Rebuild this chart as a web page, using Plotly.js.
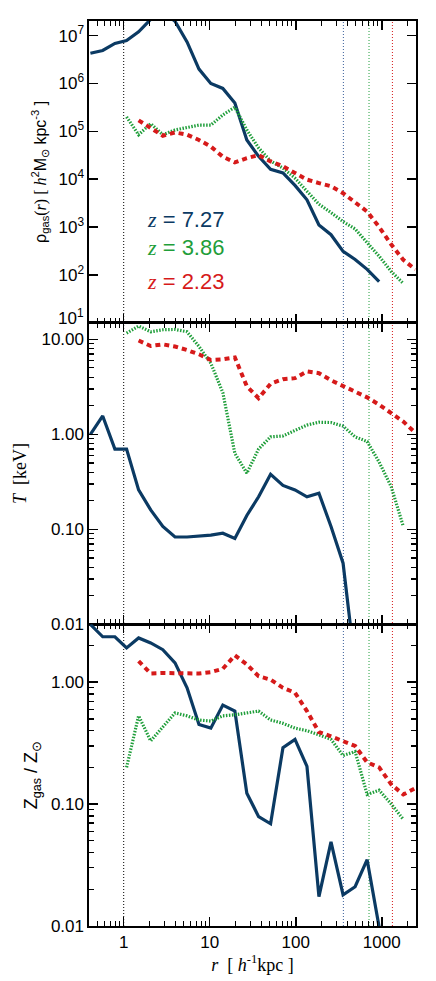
<!DOCTYPE html>
<html>
<head>
<meta charset="utf-8">
<script src="https://cdn.plot.ly/plotly-3.0.1.min.js"></script>
<style>body{margin:0;background:#fff}#plot{width:436px;height:981px}</style>
</head>
<body>
<div id="plot"></div>
<script>
// radial bins [h^-1 kpc]
const radius = [0.41, 0.57, 0.79, 1.08, 1.49, 2.06, 2.85, 3.95, 5.45, 7.5, 10.3, 14.2, 19.6, 27,
  37, 51, 71, 98, 135, 186, 257, 355, 490, 676, 932, 1290, 1780, 2450];

// gas density
const rhoZ727 = [4.3e6, 4.9e6, 6.9e6, 7.9e6, 1.2e7, 2.2e7, 3.2e7, 2.0e7, 7.4e6, 2.0e6, 1.0e6, 7.9e5, 3.9e5, 6.6e4,
  3.0e4, 1.6e4, 1.35e4, 7.4e3, 3.7e3, 1.1e3, 690, 310, 210, 130, 72, null, null, null];
const rhoZ386 = [null, null, null, 2.0e5, 8.5e4, 1.45e5, 8.5e4, 1.07e5, 1.2e5, 1.35e5, 1.35e5, 2.2e5, 3.2e5, 1.07e5,
  4.5e4, 2.4e4, 1.7e4, 1.05e4, 5.6e3, 3.0e3, 2.0e3, 1.3e3, 910, 480, 245, 117, 66, null];
const rhoZ223 = [null, null, null, null, 1.7e5, 1.17e5, 8.1e4, 9.5e4, 8.5e4, 6.6e4, 4.8e4, 2.95e4, 2.24e4, 2.75e4,
  3.2e4, 2.35e4, 1.86e4, 1.35e4, 9.8e3, 8.3e3, 7.1e3, 5.1e3, 3.2e3, 2.1e3, 1.0e3, 430, 205, 130];

// temperature [keV]
const tZ727 = [1.0, 1.56, 0.70, 0.70, 0.26, 0.16, 0.107, 0.083, 0.083, 0.085, 0.087, 0.091, 0.080, 0.14,
  0.22, 0.38, 0.29, 0.26, 0.22, 0.24, 0.107, 0.044, 0.0037, null, null, null, null, null];
const tZ386 = [null, null, null, 11.6, 13.8, 12.0, 12.6, 12.7, 12.0, 8.4, 5.6, 2.75, 0.63, 0.39,
  0.7, 0.94, 0.96, 1.1, 1.25, 1.34, 1.33, 1.22, 0.94, 0.84, 0.51, 0.28, 0.107, null];
const tZ223 = [null, null, null, null, 9.7, 8.5, 8.85, 8.4, 7.7, 6.95, 6.05, 6.15, 6.45, 3.2,
  2.4, 3.4, 3.8, 3.9, 4.6, 4.4, 3.7, 3.2, 2.8, 2.45, 2.05, 1.65, 1.36, 1.04];

// metallicity [Z_sun]
const metZ727 = [2.98, 2.36, 2.36, 1.91, 2.31, 2.10, 1.85, 1.44, 0.90, 0.45, 0.42, 0.65, 0.58, 0.123,
  0.079, 0.069, 0.29, 0.34, 0.204, 0.0174, 0.049, 0.018, 0.021, 0.035, 0.0098, 0.004, null, null];
const metZ386 = [null, null, null, 0.20, 0.53, 0.33, 0.43, 0.56, 0.53, 0.49, 0.48, 0.53, 0.54, 0.56,
  0.58, 0.49, 0.46, 0.42, 0.40, 0.37, 0.34, 0.25, 0.27, 0.12, 0.13, 0.10, 0.075, null];
const metZ223 = [null, null, null, null, 1.49, 1.18, 1.19, 1.18, 1.18, 1.18, 1.21, 1.29, 1.66, 1.40,
  1.12, 1.05, 0.90, 0.82, 0.58, 0.39, 0.36, 0.33, 0.30, 0.22, 0.20, 0.145, 0.12, 0.135];

const redshiftLabels = ['7.27', '3.86', '2.23'];
const rhoTicks = [1e1, 1e2, 1e3, 1e4, 1e5, 1e6, 1e7];
// the 10^1 label sits nudged up (as an annotation) so it clears the 10.00 below
const rhoTickText = ['', '10<sup>2</sup>', '10<sup>3</sup>', '10<sup>4</sup>',
  '10<sup>5</sup>', '10<sup>6</sup>', '10<sup>7</sup>'];
// vertical markers: resolution limit and virial radii
const vlineX = [1, 358, 711, 1330];

const blue = '#0b3a63', green = '#1f9e3a', red = '#d61a1a';
const vlineColors = ['#000000', '#3a5f9a', green, red];

const serif = 'Liberation Serif, Times New Roman, serif';
const sans = 'Liberation Sans, Arial, Helvetica, sans-serif';

const styles = [
  {color: blue, width: 3.2, dash: 'solid'},
  {color: green, width: 3.2, dash: '1.5px,1.5px'},
  {color: red, width: 4, dash: '5px,4px'}
];

const panels = [
  [rhoZ727, rhoZ386, rhoZ223],
  [tZ727, tZ386, tZ223],
  [metZ727, metZ386, metZ223]
];

let traces = [];
panels.forEach((set, p) => {
  set.forEach((ys, s) => {
    traces.push({
      x: radius, y: ys, type: 'scatter', mode: 'lines',
      xaxis: p === 0 ? 'x' : 'x' + (p + 1),
      yaxis: p === 0 ? 'y' : 'y' + (p + 1),
      line: styles[s], connectgaps: false, showlegend: false, hoverinfo: 'skip'
    });
  });
});

const xr = [Math.log10(0.395), Math.log10(2500)];
function xAxis(anchor, labels) {
  return {
    type: 'log', range: xr, anchor: anchor, dtick: 1, exponentformat: 'none',
    showticklabels: labels, ticks: 'inside', ticklen: 9, tickwidth: 1.5, tickcolor: '#000',
    showline: true, linewidth: 1.6, linecolor: '#000', mirror: 'allticks',
    showgrid: false, zeroline: false,
    tickfont: {family: sans, size: 17, color: '#000'},
    minor: {ticks: 'inside', ticklen: 5, tickwidth: 1.2, tickcolor: '#000', showgrid: false}
  };
}
function yAxis(anchor, domain, range, extra) {
  return Object.assign({
    type: 'log', range: range, domain: domain, anchor: anchor, dtick: 1,
    ticks: 'inside', ticklen: 9, tickwidth: 1.5, tickcolor: '#000',
    showline: true, linewidth: 1.6, linecolor: '#000', mirror: 'allticks',
    showgrid: false, zeroline: false,
    tickfont: {family: sans, size: 17, color: '#000'}
  }, extra);
}

const minorY = {ticks: 'inside', ticklen: 5, tickwidth: 1.2, tickcolor: '#000', showgrid: false};

let notes = redshiftLabels.map((lab, i) => ({
  xref: 'x', yref: 'y', x: Math.log10(1.75), y: [3.15, 2.57, 1.86][i],
  xanchor: 'left', yanchor: 'middle', showarrow: false,
  text: '<span style="font-family:Liberation Serif"><i>z</i></span> = ' + lab,
  font: {family: sans, size: 22, color: [blue, green, red][i]}
}));
notes.push({
  xref: 'paper', yref: 'y', x: 0, y: Math.log10(rhoTicks[0]), xanchor: 'right', yanchor: 'middle',
  xshift: -3, yshift: 6, showarrow: false, text: '10<sup>1</sup>',
  font: {family: sans, size: 17, color: '#000'}
});

const layout = {
  width: 436, height: 981,
  margin: {l: 89, r: 20, t: 21, b: 55},
  paper_bgcolor: '#fff', plot_bgcolor: '#fff',
  font: {family: sans, color: '#000'},
  xaxis: xAxis('y', false),
  xaxis2: xAxis('y2', false),
  xaxis3: Object.assign(xAxis('y3', true), {
    title: {text: '<span style="font-family:Liberation Serif"><i>r</i>  [ <i>h</i><sup>-1</sup>kpc ]</span>',
      font: {family: serif, size: 18}, standoff: 6}
  }),
  yaxis: yAxis('x', [2 / 3, 1], [1, 7.307], {
    tickmode: 'array', tickvals: rhoTicks, ticktext: rhoTickText,
    title: {text: 'ρ<sub>gas</sub><span style="font-family:Liberation Serif">(<i>r</i>) [ <i>h</i></span><sup>2</sup>M<sub>⊙</sub> kpc<sup>-3</sup> ]',
      font: {family: sans, size: 16}, standoff: 8}
  }),
  yaxis2: yAxis('x2', [1 / 3, 2 / 3], [-2, 1.175], {
    tickformat: '.2f', minor: minorY,
    title: {text: '<i>T</i>  [keV]', font: {family: serif, size: 18}, standoff: 10}
  }),
  yaxis3: yAxis('x3', [0, 1 / 3], [-2, 0.475], {
    tickformat: '.2f', minor: minorY,
    title: {text: 'Z<sub>gas</sub> / Z<sub>⊙</sub>', font: {family: sans, size: 18}, standoff: 8}
  }),
  shapes: vlineX.map((v, i) => ({
    type: 'line', xref: 'x3', yref: 'paper', x0: v, x1: v, y0: 0, y1: 1, layer: 'below',
    line: {color: vlineColors[i], width: 1, dash: '1px,2px'}
  })),
  annotations: notes
};

Plotly.newPlot('plot', traces, layout, {staticPlot: true, displayModeBar: false});
</script>
</body>
</html>
